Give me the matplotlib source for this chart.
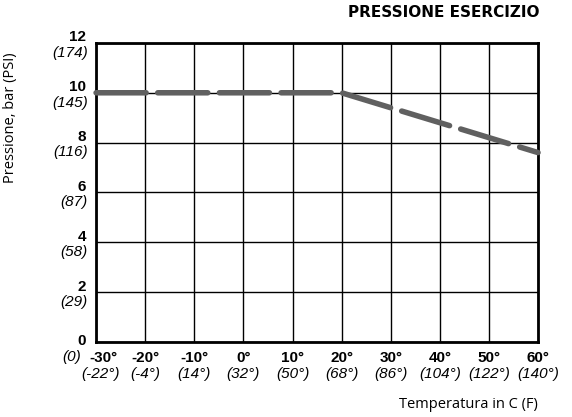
import matplotlib
matplotlib.use('Agg')
from matplotlib import pyplot as plt

# dati
temp_c = [-30, -20, -10, 0, 10, 20, 30, 40, 50, 60]
temp_f = [-22, -4, 14, 32, 50, 68, 86, 104, 122, 140]
press_bar = [0, 2, 4, 6, 8, 10, 12]
press_psi = [0, 29, 58, 87, 116, 145, 174]

curve_t = [-30, 20, 60]
curve_p = [10, 10, 7.6]

plt.rcParams['font.family'] = ['Liberation Sans', 'DejaVu Sans']

fig = plt.figure(figsize=(5.72, 4.17), dpi=100)
ax = fig.add_axes([0.168, 0.18, 0.7726, 0.717])
ax.set_xlim(-30, 60)
ax.set_ylim(0, 12)

ax.set_xticks(temp_c)
ax.set_yticks(press_bar)
ax.grid(True, color='black', linewidth=1.0)
ax.tick_params(length=0, labelbottom=False, labelleft=False)
for s in ax.spines.values():
    s.set_linewidth(2)
    s.set_color('black')

ax.plot(curve_t, curve_p, color='#606060', linewidth=4, linestyle=(0, (9.0, 2.1)),
        dash_capstyle='round', solid_capstyle='round', clip_on=False, zorder=3)

# etichette asse x (C sopra, F sotto)
for c, f in zip(temp_c, temp_f):
    dx = 5 if c == -30 else 0
    ax.annotate(f'{c}°', (c, 0), xytext=(dx, -11.5), textcoords='offset points',
                ha='center', va='center', fontsize=11, fontweight='bold')
    ax.annotate(f'({f}°)', (c, 0), xytext=(dx * 0.6, -23), textcoords='offset points',
                ha='center', va='center', fontsize=11, fontstyle='italic')

# etichette asse y (bar sopra, PSI sotto)
for b, p in zip(press_bar, press_psi):
    up, down = (1, -11) if b == 0 else (4, -7)
    xoff = -11 if b == 0 else -6
    ax.annotate(f'{b}', (-30, b), xytext=(-7, up), textcoords='offset points',
                ha='right', va='center', fontsize=11, fontweight='bold')
    ax.annotate(f'({p})', (-30, b), xytext=(xoff, down), textcoords='offset points',
                ha='right', va='center', fontsize=11, fontstyle='italic')

fig.text(0.944, 0.969, 'PRESSIONE ESERCIZIO', ha='right', va='center',
         fontsize=11, fontweight='bold', family=['DejaVu Sans'])
fig.text(0.940, 0.029, 'Temperatura in C (F)', ha='right', va='center',
         fontsize=10.5, family=['Open Sans', 'DejaVu Sans'])
fig.text(0.0175, 0.717, 'Pressione, bar (PSI)', ha='center', va='center', rotation=90,
         fontsize=10.5, family=['Open Sans', 'DejaVu Sans'])

plt.savefig('out.png', dpi=100)
plt.close()
